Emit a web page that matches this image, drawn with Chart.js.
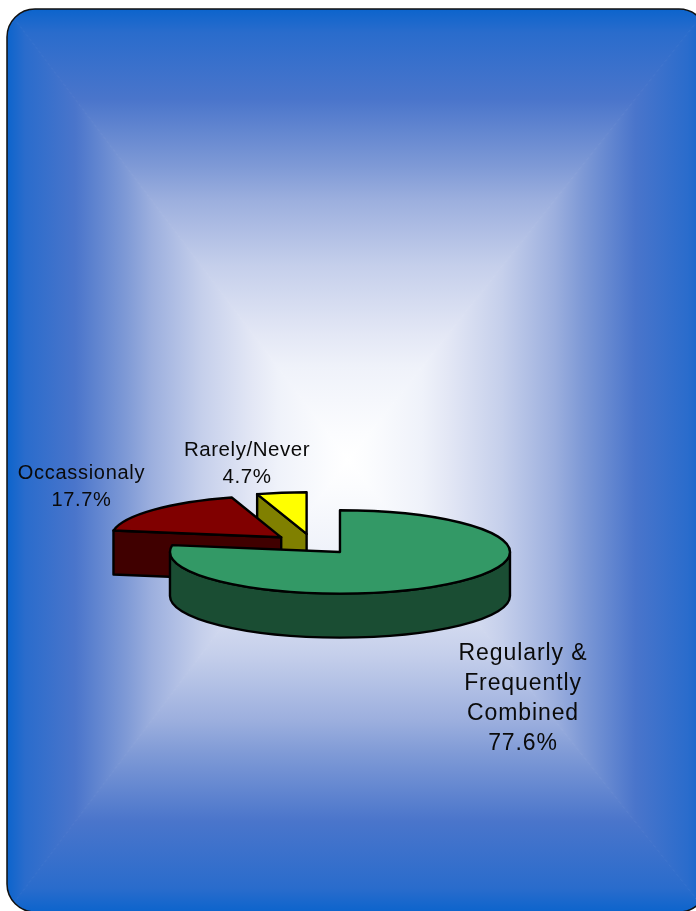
<!DOCTYPE html>
<html>
<head>
<meta charset="utf-8">
<title>Pie</title>
<script src="https://cdn.jsdelivr.net/npm/chart.js@4/dist/chart.umd.min.js"></script>
<style>
  html, body { margin: 0; padding: 0; background: #fff; }
  canvas { display: block; }
</style>
</head>
<body>
<canvas id="myChart" width="696" height="911"></canvas>
<script>
var categories = ['Regularly & Frequently Combined', 'Occassionaly', 'Rarely/Never'];
var shares = [77.6, 17.7, 4.7];
var topColors = ['#339966', '#800000', '#ffff00'];
var wallColors = ['#1a4d33', '#400000', '#808000'];

// label lines and where they go
var labelLines = [['Regularly &', 'Frequently', 'Combined'], ['Occassionaly'], ['Rarely/Never']];
var labelStyle = [
  { x: 523, y: 660, step: 30, size: 23, spacing: 0.9 },
  { x: 81.5, y: 479, step: 27, size: 20, spacing: 0.7 },
  { x: 247, y: 456, step: 27, size: 20.5, spacing: 0.55 }
];

var pieX = 312.8, pieY = 544.1, squash = 0.245, depth = 44, explode = 42;

function drawBackground(ctx) {
  var l = 7, t = 9, r = 707, b = 912, cx = 348, cy = 460;
  var stops = [[0, '#ffffff'], [0.06, '#fbfcfe'], [0.206, '#eff2fa'], [0.28, '#e3e7f5'],
    [0.43, '#c5cfeb'], [0.576, '#9cafde'], [0.65, '#7f9ad6'], [0.8, '#4a75cb'],
    [0.947, '#2a6ccc'], [1, '#0c64cc']];
  var sides = [
    [l, t, r, t, cx, t], [r, t, r, b, r, cy],
    [r, b, l, b, cx, b], [l, b, l, t, l, cy]
  ];
  ctx.save();
  ctx.beginPath();
  ctx.roundRect(l, t, r - l, b - t, 28);
  ctx.clip();
  sides.forEach(function (s) {
    var g = ctx.createLinearGradient(cx, cy, s[4], s[5]);
    stops.forEach(function (st) { g.addColorStop(st[0], st[1]); });
    ctx.fillStyle = g;
    ctx.strokeStyle = g;
    ctx.lineWidth = 1;
    ctx.beginPath();
    ctx.moveTo(cx, cy);
    ctx.lineTo(s[0], s[1]);
    ctx.lineTo(s[2], s[3]);
    ctx.closePath();
    ctx.fill();
    ctx.stroke();
  });
  ctx.restore();
  ctx.beginPath();
  ctx.roundRect(l, t, r - l, b - t, 28);
  ctx.strokeStyle = '#111';
  ctx.lineWidth = 1.5;
  ctx.stroke();
}

function drawSlice(chart, arc, i) {
  var ctx = chart.ctx;
  var a0 = arc.startAngle, a1 = arc.endAngle, rx = arc.outerRadius, ry = rx * squash;
  var mid = (a0 + a1) / 2;
  var cx = pieX + Math.cos(mid) * explode;
  var cy = pieY + Math.sin(mid) * explode * squash;

  ctx.save();
  ctx.lineWidth = 2.4;
  ctx.lineJoin = 'round';
  ctx.strokeStyle = '#000';
  ctx.fillStyle = wallColors[i];

  // cut faces that look towards the viewer
  [[a0, Math.cos(a0) < -1e-6], [a1, Math.cos(a1) > 1e-6]].forEach(function (f) {
    if (!f[1]) return;
    var px = cx + Math.cos(f[0]) * rx, py = cy + Math.sin(f[0]) * ry;
    ctx.beginPath();
    ctx.moveTo(cx, cy);
    ctx.lineTo(px, py);
    ctx.lineTo(px, py + depth);
    ctx.lineTo(cx, cy + depth);
    ctx.closePath();
    ctx.fill();
    ctx.stroke();
  });

  // outer wall, front half only
  var w0 = Math.max(a0, 0), w1 = Math.min(a1, Math.PI);
  if (w1 > w0) {
    ctx.beginPath();
    ctx.ellipse(cx, cy, rx, ry, 0, w0, w1);
    ctx.ellipse(cx, cy + depth, rx, ry, 0, w1, w0, true);
    ctx.closePath();
    ctx.fill();
    ctx.stroke();
  }

  // the top comes from the library, flattened
  ctx.save();
  ctx.translate(cx, cy);
  ctx.scale(1, squash);
  ctx.translate(-arc.x, -arc.y);
  arc.draw(ctx);
  ctx.restore();

  ctx.beginPath();
  ctx.moveTo(cx, cy);
  ctx.ellipse(cx, cy, rx, ry, 0, a0, a1);
  ctx.closePath();
  ctx.stroke();
  ctx.restore();
}

var pie3d = {
  id: 'pie3d',
  beforeDraw: function (chart) {
    drawBackground(chart.ctx);
  },
  beforeDatasetsDraw: function (chart) {
    var arcs = chart.getDatasetMeta(0).data;
    for (var i = arcs.length - 1; i >= 0; i--) {
      drawSlice(chart, arcs[i], i);
    }
    return false;
  },
  afterDraw: function (chart) {
    var ctx = chart.ctx;
    ctx.save();
    ctx.fillStyle = '#0a0a0a';
    ctx.textAlign = 'center';
    labelLines.forEach(function (lines, i) {
      var s = labelStyle[i];
      var all = lines.concat([shares[i].toFixed(1) + '%']);
      ctx.font = s.size + 'px "Liberation Sans"';
      ctx.letterSpacing = s.spacing + 'px';
      all.forEach(function (txt, n) {
        ctx.fillText(txt, s.x, s.y + n * s.step);
      });
    });
    ctx.restore();
  }
};

var ctx = document.getElementById('myChart').getContext('2d');
var myChart = new Chart(ctx, {
  type: 'pie',
  data: {
    labels: categories,
    datasets: [{
      data: shares,
      backgroundColor: topColors,
      borderWidth: 0,
      radius: 170
    }]
  },
  options: {
    responsive: false,
    animation: false,
    plugins: { legend: { display: false }, tooltip: { enabled: false } }
  },
  plugins: [pie3d]
});
</script>
</body>
</html>
